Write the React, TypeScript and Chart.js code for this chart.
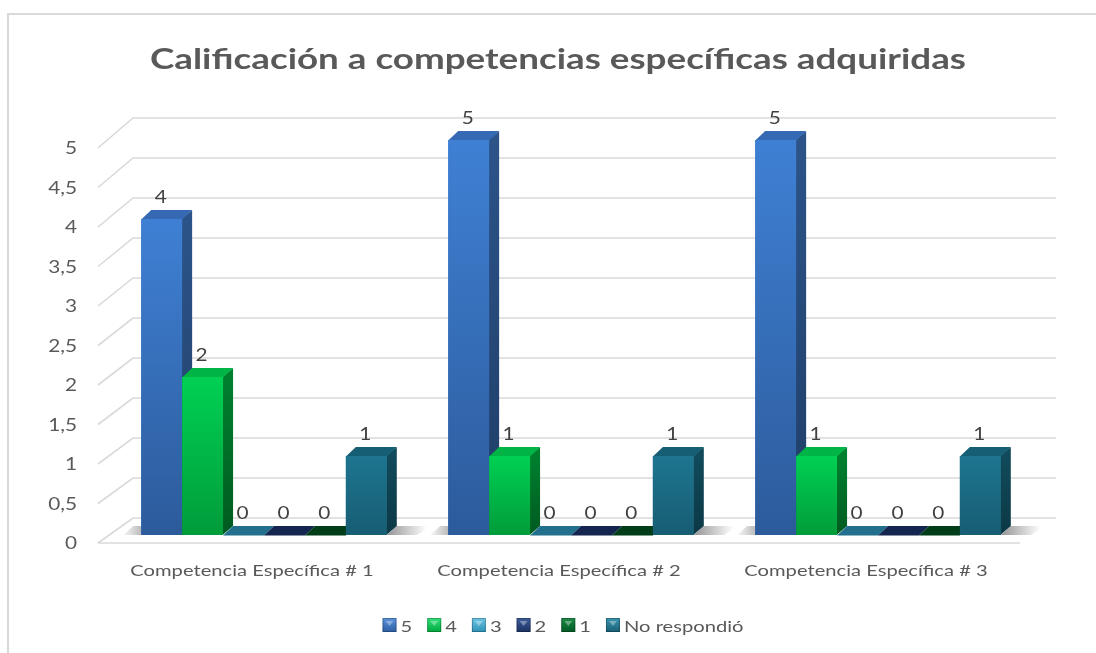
import React, { useEffect, useRef } from "react";
import { Chart, registerables } from "chart.js";

Chart.register(...registerables);

const chartTitle = "Calificación a competencias específicas adquiridas";
const categories = [
  "Competencia Específica # 1",
  "Competencia Específica # 2",
  "Competencia Específica # 3",
];
const seriesNames = ["5", "4", "3", "2", "1", "No respondió"];
const values5 = [4, 5, 5];
const values4 = [2, 1, 1];
const values3 = [0, 0, 0];
const values2 = [0, 0, 0];
const values1 = [0, 0, 0];
const valuesNR = [1, 1, 1];
const yMin = 0;
const yMax = 5;
const yStep = 0.5;

const palette = [
  { front: ["#3F80D4", "#2C5B9B"], side: ["#2C5489", "#1F3D66"], top: "#3569B3", legend: ["#5B93DC", "#2D5FA3"] },
  { front: ["#00D053", "#009C3A"], side: ["#00802F", "#005A20"], top: "#00B545", legend: ["#33E07A", "#00A83F"] },
  { front: ["#3AA3C8", "#2A86A8"], side: ["#1E6A85", "#174F63"], top: "#22708E", legend: ["#6CC6E6", "#2E92B8"] },
  { front: ["#23407A", "#1A3060"], side: ["#142649", "#0F1C37"], top: "#142650", legend: ["#3D5C99", "#1B3263"] },
  { front: ["#00602A", "#004A1E"], side: ["#003A16", "#002A10"], top: "#003D18", legend: ["#1C8A46", "#005A24"] },
  { front: ["#1E7590", "#175D73"], side: ["#114A5B", "#0C3845"], top: "#165E74", legend: ["#3A93AD", "#175F75"] },
];

const FONT = "Lato, 'Open Sans', sans-serif";
const TEXT = "#595959";
const GRID = "#D9D9D9";
const DX = 10;
const DY = 9;
const STRETCH = 1.26;

function stretchedText(ctx: any, text: string, x: number, y: number, font: string, color: string, align: string) {
  ctx.save();
  ctx.font = font;
  ctx.fillStyle = color;
  ctx.textAlign = align;
  ctx.textBaseline = "alphabetic";
  ctx.translate(x, y);
  ctx.scale(STRETCH, 1);
  ctx.fillText(text, 0, 0);
  ctx.restore();
}

const fmt = (v: number) => String(v).replace(".", ",");

const threeD = {
  id: "threeD",
  beforeDatasetsDraw(chart: any) {
    const ctx = chart.ctx;
    const { left, right } = chart.chartArea;
    const y = chart.scales.y;
    ctx.save();
    // frame
    ctx.strokeStyle = GRID;
    ctx.lineWidth = 2;
    ctx.beginPath();
    ctx.moveTo(8, 14);
    ctx.lineTo(1096, 14);
    ctx.moveTo(8, 13);
    ctx.lineTo(8, 653);
    ctx.stroke();
    // back wall grid + side wall diagonals
    ctx.lineWidth = 1.6;
    y.ticks.forEach((t: any) => {
      const v = t.value;
      const fy = y.getPixelForValue(v);
      const by = fy - 17 - v;
      ctx.beginPath();
      ctx.moveTo(left - 12.5, fy + 8);
      ctx.lineTo(left + 22.5, by);
      ctx.lineTo(right + 24.5, by);
      ctx.stroke();
    });
    const f0 = y.getPixelForValue(0);
    ctx.beginPath();
    ctx.moveTo(left - 12.5, f0 + 8);
    ctx.lineTo(right - 11.5, f0 + 8);
    ctx.stroke();
    // floor shadows
    const n = chart.data.labels.length;
    const first = chart.getDatasetMeta(0);
    const last = chart.getDatasetMeta(chart.data.datasets.length - 1);
    for (let j = 0; j < n; j++) {
      const a = first.data[j];
      const b = last.data[j];
      const la = a.x - a.width / 2;
      const rb = b.x + b.width / 2;
      const base = b.base;
      let g = ctx.createLinearGradient(rb, 0, rb + 40, 0);
      g.addColorStop(0, "rgba(60,60,60,0.55)");
      g.addColorStop(1, "rgba(60,60,60,0)");
      ctx.fillStyle = g;
      ctx.beginPath();
      ctx.moveTo(rb, base);
      ctx.lineTo(rb + DX, base - DY);
      ctx.lineTo(rb + DX + 35, base - DY);
      ctx.lineTo(rb + 30, base);
      ctx.closePath();
      ctx.fill();
      g = ctx.createLinearGradient(la, 0, la - 20, 0);
      g.addColorStop(0, "rgba(60,60,60,0.35)");
      g.addColorStop(1, "rgba(60,60,60,0)");
      ctx.fillStyle = g;
      ctx.beginPath();
      ctx.moveTo(la - 18, base);
      ctx.lineTo(la - 8, base - DY);
      ctx.lineTo(la + DX, base - DY);
      ctx.lineTo(la, base);
      ctx.closePath();
      ctx.fill();
    }
    ctx.restore();
  },
  afterDatasetsDraw(chart: any) {
    const ctx = chart.ctx;
    const n = chart.data.labels.length;
    const nd = chart.data.datasets.length;
    ctx.save();
    for (let j = 0; j < n; j++) {
      for (let i = 0; i < nd; i++) {
        const el = chart.getDatasetMeta(i).data[j];
        const { x, y, base, width } = el.getProps(["x", "y", "base", "width"], true);
        const l = x - width / 2;
        const r = x + width / 2;
        const p = palette[i];
        if (base - y > 0.5) {
          const gs = ctx.createLinearGradient(0, y, 0, base);
          gs.addColorStop(0, p.side[0]);
          gs.addColorStop(1, p.side[1]);
          ctx.fillStyle = gs;
          ctx.beginPath();
          ctx.moveTo(r - 0.5, y);
          ctx.lineTo(r + DX, y - DY);
          ctx.lineTo(r + DX, base - DY);
          ctx.lineTo(r - 0.5, base);
          ctx.closePath();
          ctx.fill();
        }
        ctx.fillStyle = p.top;
        ctx.beginPath();
        ctx.moveTo(l, y + 0.5);
        ctx.lineTo(l + DX, y - DY);
        ctx.lineTo(r + DX, y - DY);
        ctx.lineTo(r, y + 0.5);
        ctx.closePath();
        ctx.fill();
        if (base - y > 0.5) {
          const gf = ctx.createLinearGradient(0, y, 0, base);
          gf.addColorStop(0, p.front[0]);
          gf.addColorStop(1, p.front[1]);
          ctx.fillStyle = gf;
          ctx.fillRect(l, y, width, base - y);
        }
      }
    }
    // data labels
    for (let i = 0; i < nd; i++) {
      const meta = chart.getDatasetMeta(i);
      meta.data.forEach((el: any, j: number) => {
        const v = chart.data.datasets[i].data[j];
        stretchedText(ctx, fmt(v), el.x - 1, el.y - 16, `16.5px ${FONT}`, "#404040", "center");
      });
    }
    ctx.restore();
  },
  afterDraw(chart: any) {
    const ctx = chart.ctx;
    const xs = chart.scales.x;
    const ys = chart.scales.y;
    // y tick labels
    ys.ticks.forEach((t: any) => {
      const py = ys.getPixelForValue(t.value);
      stretchedText(ctx, fmt(t.value), 77, py + 14, `16.5px ${FONT}`, TEXT, "right");
    });
    // category labels
    chart.data.labels.forEach((lab: string, i: number) => {
      stretchedText(ctx, lab, xs.getPixelForTick(i) - 12, 576, `16px ${FONT}`, TEXT, "center");
    });
    // title
    stretchedText(ctx, chartTitle, 558, 69, `bold 29.2px ${FONT}`, TEXT, "center");
    // legend
    ctx.save();
    const legendFont = `16px ${FONT}`;
    ctx.font = legendFont;
    const box = 14;
    const gap = 4;
    const spacing = 15;
    const widths = seriesNames.map((s) => box + gap + ctx.measureText(s).width * STRETCH);
    const total = widths.reduce((a, b) => a + b, 0) + spacing * (widths.length - 1);
    let xx = 563 - total / 2;
    const top = 618;
    seriesNames.forEach((s, i) => {
      const p = palette[i];
      const g = ctx.createLinearGradient(0, top, 0, top + box);
      g.addColorStop(0, p.legend[0]);
      g.addColorStop(1, p.legend[1]);
      ctx.fillStyle = g;
      ctx.fillRect(xx, top, box, box);
      ctx.fillStyle = "rgba(255,255,255,0.35)";
      ctx.beginPath();
      ctx.moveTo(xx + 3, top + 3);
      ctx.lineTo(xx + box - 3, top + 3);
      ctx.lineTo(xx + box / 2, top + 8);
      ctx.closePath();
      ctx.fill();
      ctx.strokeStyle = "rgba(0,0,0,0.25)";
      ctx.lineWidth = 1;
      ctx.strokeRect(xx + 0.5, top + 0.5, box - 1, box - 1);
      stretchedText(ctx, s, xx + box + gap, 632, legendFont, TEXT, "left");
      xx += widths[i] + spacing;
    });
    ctx.restore();
  },
};

export default function App() {
  const ref = useRef<HTMLCanvasElement>(null);
  useEffect(() => {
    const canvas = ref.current!;
    const seriesValues = [values5, values4, values3, values2, values1, valuesNR];
    const chart = new Chart(canvas, {
      type: "bar",
      data: {
        labels: categories,
        datasets: seriesNames.map((name, i) => ({
          label: name,
          data: seriesValues[i],
          backgroundColor: palette[i].front[0],
          borderWidth: 0,
          barPercentage: 1,
          categoryPercentage: 0.8,
        })),
      },
      options: {
        responsive: false,
        animation: false,
        devicePixelRatio: 1,
        layout: { padding: { top: 140, left: 0, right: 64.5, bottom: 68 } },
        plugins: {
          legend: { display: false },
          title: { display: false },
          tooltip: { enabled: false },
        },
        scales: {
          x: {
            grid: { display: false, drawTicks: false },
            border: { display: false },
            ticks: { display: false },
            afterFit: (s: any) => {
              s.height = 50;
            },
          },
          y: {
            min: yMin,
            max: yMax,
            grid: { display: false, drawTicks: false },
            border: { display: false },
            ticks: { display: false, stepSize: yStep },
            afterFit: (s: any) => {
              s.width = 110.5;
            },
          },
        },
      },
      plugins: [threeD],
    });
    return () => chart.destroy();
  }, []);
  return (
    <div style={{ position: "fixed", left: 0, top: 0, width: 1096, height: 653, background: "#fff" }}>
      <canvas ref={ref} width={1096} height={653} style={{ display: "block", width: 1096, height: 653 }} />
    </div>
  );
}
